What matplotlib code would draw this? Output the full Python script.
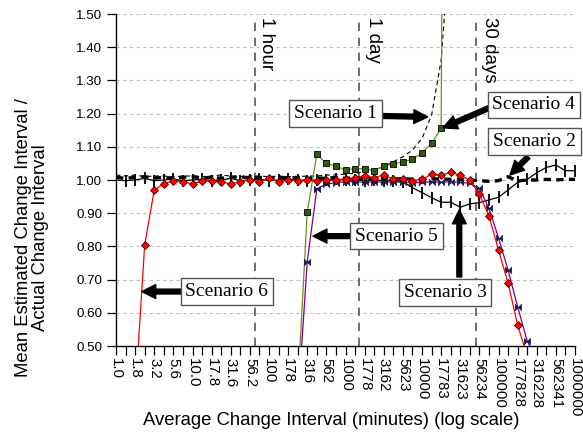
import numpy as np
import matplotlib
matplotlib.use("Agg")
import matplotlib.pyplot as plt

nan = np.nan

# categories: 10^(k/8) minutes, k = 0..48; every other one is labelled
tick_labels = ["1.0", "1.8", "3.2", "5.6", "10.0", "17.8", "31.6", "56.2", "100", "178",
               "316", "562", "1000", "1778", "3162", "5623", "10000", "17783", "31623",
               "56234", "100000", "177828", "316228", "562341", "1000000"]
n_cat = 49

scenario1 = [1.015, 1.012, 1.015, 1.010, 1.012, 1.012, 1.010, 1.012, 1.012, 1.010,
             1.012, 1.015, 1.012, 1.010, 1.012, 1.012, 1.010, 1.012, 1.010, 1.010,
             1.012, 1.012, 1.015, 1.015, 1.018, 1.020, 1.025, 1.032, 1.040, 1.055,
             1.070, 1.090, 1.125, 1.195, 1.360, 1.750, nan, nan, nan, nan,
             nan, nan, nan, nan, nan, nan, nan, nan, nan]

scenario2 = [1.008, 1.005, 1.008, 1.010, 1.006, 1.008, 1.005, 1.008, 1.010, 1.006,
             1.008, 1.005, 1.008, 1.010, 1.006, 1.008, 1.005, 1.008, 1.006, 1.008,
             1.005, 1.006, 1.005, 1.008, 1.005, 1.006, 1.005, 1.004, 1.005, 1.003,
             1.004, 1.002, 1.003, 1.004, 1.003, 1.002, 1.002, 1.000, 0.998, 0.996,
             0.998, 1.010, 0.997, 1.000, 1.000, 1.002, 1.000, 1.002, 1.002]

scenario3 = [1.000, 0.998, 1.000, 1.005, 0.998, 1.000, 1.003, 0.998, 1.000, 1.002,
             0.998, 1.000, 1.005, 0.998, 1.000, 1.003, 0.998, 1.000, 1.002, 1.000,
             0.998, 1.000, 1.000, 1.002, 1.000, 1.000, 0.998, 1.000, 0.998, 0.998,
             0.995, 0.977, 0.962, 0.947, 0.933, 0.933, 0.918, 0.928, 0.932, 0.940,
             0.948, 0.970, 0.993, 1.002, 1.022, 1.038, 1.045, 1.028, 1.028]

scenario4 = [nan] * 19 + [0.37, 0.903, 1.078, 1.050, 1.042, 1.030, 1.034, 1.034, 1.028, 1.042,
                          1.048, 1.055, 1.062, 1.082, 1.110, 1.156, 6.0] + [nan] * 13

scenario5 = [nan] * 19 + [0.32, 0.754, 0.973, 0.988, 0.992, 0.995, 0.995, 0.993, 0.995, 0.993,
                          0.995, 0.993, 0.992, 0.993, 0.995, 0.993, 0.995, 0.993, 0.990, 0.975,
                          0.915, 0.826, 0.729, 0.618, 0.515, 0.46] + [nan] * 4

scenario6 = [nan, nan, 0.35, 0.805, 0.970, 0.988, 0.998, 0.995, 0.988, 0.997,
             0.997, 0.995, 0.988, 0.995, 1.000, 0.995, 1.005, 0.995, 1.000, 0.998,
             1.000, 0.998, 1.000, 1.000, 1.004, 1.006, 1.012, 1.007, 1.015, 1.003,
             1.003, 0.998, 1.002, 1.017, 1.015, 1.023, 1.015, 1.000, 0.957, 0.892,
             0.789, 0.690, 0.563, 0.470, 0.380, nan, nan, nan, nan]

x = np.arange(n_cat)

W, H = 583, 436
fig = plt.figure(figsize=(W / 100, H / 100), dpi=100)
ax = fig.add_axes([116 / W, 1 - 346 / H, 459 / W, 332 / H])

sans = "Liberation Sans"
serif = "Liberation Serif"

# grid
for v in np.arange(0.6, 1.51, 0.1):
    ax.axhline(v, color="#c0c0c0", lw=0.8, ls=(0, (3, 3)), zorder=0)

# time markers
for xv in [14.55, 25.45, 37.65]:
    ax.plot([xv, xv], [0.5, 1.488], color="#555555", lw=1.2, ls=(0, (5, 4)), zorder=1)

ax.plot(x, scenario2, color="black", lw=2.4, ls=(0, (2.2, 1.6)), zorder=3)
ax.plot(x, scenario1, color="black", lw=0.8, ls=(0, (4, 3)), zorder=3)
ax.plot(x, scenario3, color="black", lw=0.9, marker="|", ms=8, mew=1.3, zorder=4)
ax.plot(x, scenario4, color="#6b8e23", lw=0.9, marker="s", ms=5, mfc="#2f5a10",
        mec="black", mew=0.6, zorder=5)
bowtie = [(-1, -1), (-1, 1), (1, -1), (1, 1), (-1, -1)]
ax.plot(x, scenario5, color="#800080", lw=0.9, marker=bowtie, ms=4.5, mfc="#1a1a50",
        mec="#1a1a50", mew=0.5, zorder=5)
ax.plot(x, scenario6, color="red", lw=0.9, marker="D", ms=4, mfc="red",
        mec="#400000", mew=0.6, zorder=6)

ax.set_xlim(0, 48)
ax.set_ylim(0.5, 1.5)
ax.set_xticks(x)
ax.set_xticklabels([tick_labels[i // 2] if i % 2 == 0 else "" for i in x],
                   rotation=270, fontsize=10.8, family=sans)
ax.set_yticks(np.arange(0.5, 1.51, 0.1))
ax.set_yticklabels(["%.2f" % v for v in np.arange(0.5, 1.51, 0.1)], fontsize=9.6, family=sans)
ax.tick_params(axis="both", direction="out", length=6.5, width=0.9, color="black")
ax.tick_params(axis="x", pad=2)
for s in ["top", "right"]:
    ax.spines[s].set_visible(False)
for s in ["left", "bottom"]:
    ax.spines[s].set_linewidth(1.0)

fig.text(331 / W, 1 - 420 / H, "Average Change Interval (minutes) (log scale)",
         ha="center", va="center", fontsize=13.3, family=sans)
fig.text(32 / W, 1 - 238 / H, "Mean Estimated Change Interval /\nActual Change Interval",
         ha="center", va="center", rotation=90, fontsize=13.3, family=sans,
         linespacing=1.0, multialignment="center")

# time labels
for xv, txt in [(15.7, "1 hour"), (26.9, "1 day"), (39.1, "30 days")]:
    ax.text(xv, 1.49, txt, rotation=270, ha="center", va="top", fontsize=13.5, family=sans)

box = dict(boxstyle="square,pad=0.25", fc="white", ec="#555555", lw=1.0)
arrow = dict(width=3.5, headwidth=10, headlength=10, facecolor="black", edgecolor="black", shrink=0)

notes = [
    ("Scenario 1", (22.96, 1.200), (27.6, 1.193), (32.6, 1.190)),
    ("Scenario 4", (43.7, 1.226), (39.0, 1.217), (34.2, 1.157)),
    ("Scenario 2", (43.8, 1.115), (43.1, 1.070), (41.2, 1.015)),
    ("Scenario 5", (29.35, 0.831), (24.6, 0.831), (20.6, 0.831)),
    ("Scenario 3", (34.4, 0.661), (35.9, 0.708), (35.9, 0.910)),
    ("Scenario 6", (11.6, 0.664), (6.8, 0.664), (2.7, 0.664)),
]
for txt, pos, tail, tip in notes:
    ax.annotate("", xy=tip, xytext=tail, arrowprops=arrow, zorder=7)
    ax.text(pos[0], pos[1], txt, ha="center", va="center", fontsize=14, family=serif,
            bbox=box, zorder=8)

fig.savefig("out.png", dpi=100)
